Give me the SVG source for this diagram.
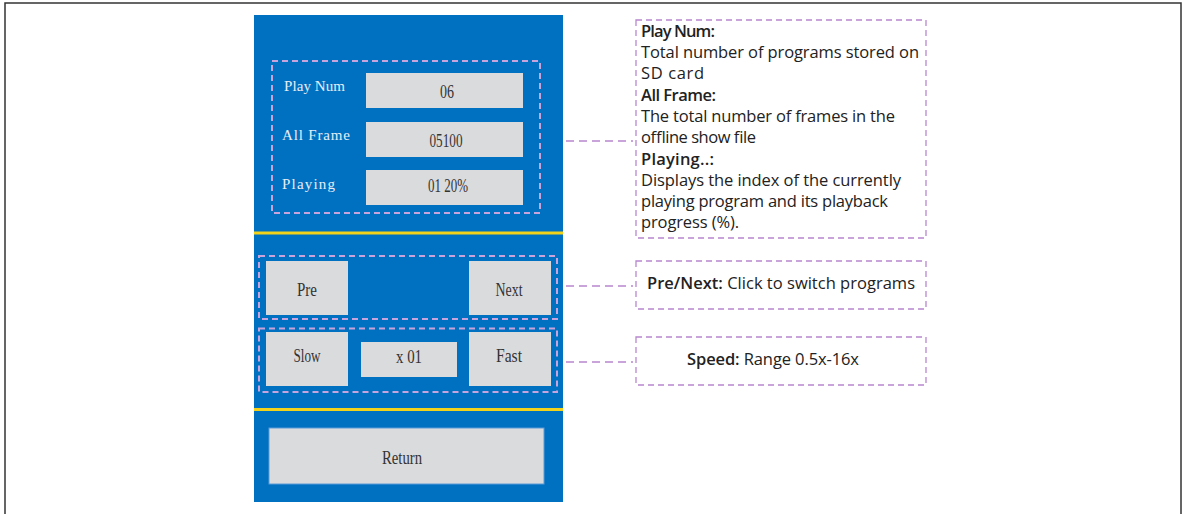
<svg xmlns="http://www.w3.org/2000/svg" width="1187" height="514" viewBox="0 0 1187 514">
<style>
.lbl{font-family:"Liberation Serif",serif;font-size:15px;fill:#e6eef8}
.val{font-family:"Liberation Serif",serif;font-size:18px;fill:#333;text-anchor:middle}
.field{fill:#dadbdd}
.grp{fill:none;stroke:#c9a3dc;stroke-width:2;stroke-dasharray:6 4}
.note{fill:#fff;stroke:#b887cf;stroke-width:1.3;stroke-dasharray:6 4}
.conn{fill:none;stroke:#b887cf;stroke-width:1.3;stroke-dasharray:8 5}
.t{font-family:"Open Sans",Lato,sans-serif;font-size:16.5px;fill:#222}
.b{font-weight:600}
.yl{stroke:#f2d21b;stroke-width:3}
</style>
<rect x="5" y="3" width="1176" height="530" fill="#fff" stroke="#333" stroke-width="1.5"/>
<g id="panel">
<rect x="254" y="15" width="309" height="487" fill="#0070c0"/>
<line class="yl" x1="254" y1="233" x2="563" y2="233"/>
<line class="yl" x1="254" y1="409.5" x2="563" y2="409.5"/>
</g>
<g id="status">
<rect class="grp" x="272" y="61" width="268" height="152"/>
<text class="lbl" x="284" y="91" textLength="61" lengthAdjust="spacing">Play Num</text>
<text class="lbl" x="282" y="140" textLength="68" lengthAdjust="spacing">All Frame</text>
<text class="lbl" x="282" y="189" textLength="53" lengthAdjust="spacing">Playing</text>
<rect class="field" x="366" y="73" width="157" height="35"/>
<rect class="field" x="366" y="122" width="157" height="35"/>
<rect class="field" x="366" y="170" width="157" height="35"/>
<text class="val" x="447" y="98" textLength="14" lengthAdjust="spacingAndGlyphs">06</text>
<text class="val" x="446" y="147" textLength="33" lengthAdjust="spacingAndGlyphs">05100</text>
<text class="val" x="448" y="192" textLength="40" lengthAdjust="spacingAndGlyphs">01 20%</text>
</g>
<g id="prenext">
<rect class="grp" x="259" y="256" width="298" height="63"/>
<rect class="field" x="266" y="261" width="82" height="54"/>
<rect class="field" x="469" y="261" width="82" height="54"/>
<text class="val" x="307" y="296" textLength="20" lengthAdjust="spacingAndGlyphs">Pre</text>
<text class="val" x="509" y="296" textLength="27" lengthAdjust="spacingAndGlyphs">Next</text>
</g>
<g id="speed">
<rect class="grp" x="259" y="328.5" width="298" height="63.5"/>
<rect class="field" x="266" y="332" width="82" height="54"/>
<rect class="field" x="361" y="342" width="96" height="35"/>
<rect class="field" x="469" y="332" width="82" height="54"/>
<text class="val" x="307" y="362" textLength="27" lengthAdjust="spacingAndGlyphs">Slow</text>
<text class="val" x="409" y="363" textLength="26" lengthAdjust="spacingAndGlyphs">x 01</text>
<text class="val" x="509" y="362" textLength="26" lengthAdjust="spacingAndGlyphs">Fast</text>
</g>
<g id="return">
<rect class="field" x="269" y="428" width="275" height="56" stroke="#5b9bd5" stroke-width="1"/>
<text class="val" x="402" y="464" textLength="40" lengthAdjust="spacingAndGlyphs">Return</text>
</g>
<g id="connectors">
<line class="conn" x1="566" y1="141" x2="633" y2="141"/>
<line class="conn" x1="566" y1="286" x2="633" y2="286"/>
<line class="conn" x1="566" y1="362" x2="633" y2="362"/>
</g>
<g id="note-status">
<rect class="note" x="636" y="20" width="290" height="218"/>
<text class="t b" x="641" y="37" textLength="74">Play Num:</text>
<text class="t" x="641" y="58" textLength="278">Total number of programs stored on</text>
<text class="t" x="641" y="79" textLength="63">SD card</text>
<text class="t b" x="641" y="101" textLength="75">All Frame:</text>
<text class="t" x="641" y="122" textLength="254">The total number of frames in the</text>
<text class="t" x="641" y="143" textLength="115">offline show file</text>
<text class="t b" x="641" y="165" textLength="73">Playing..:</text>
<text class="t" x="641" y="186" textLength="260">Displays the index of the currently</text>
<text class="t" x="641" y="207" textLength="247">playing program and its playback</text>
<text class="t" x="641" y="228" textLength="98">progress (%).</text>
</g>
<g id="note-prenext">
<rect class="note" x="636" y="261" width="290" height="48"/>
<text class="t" x="647" y="289" textLength="268"><tspan class="b">Pre/Next:</tspan> Click to switch programs</text>
</g>
<g id="note-speed">
<rect class="note" x="636" y="337" width="290" height="48"/>
<text class="t" x="687" y="365" textLength="172"><tspan class="b">Speed:</tspan> Range 0.5x-16x</text>
</g>
</svg>
